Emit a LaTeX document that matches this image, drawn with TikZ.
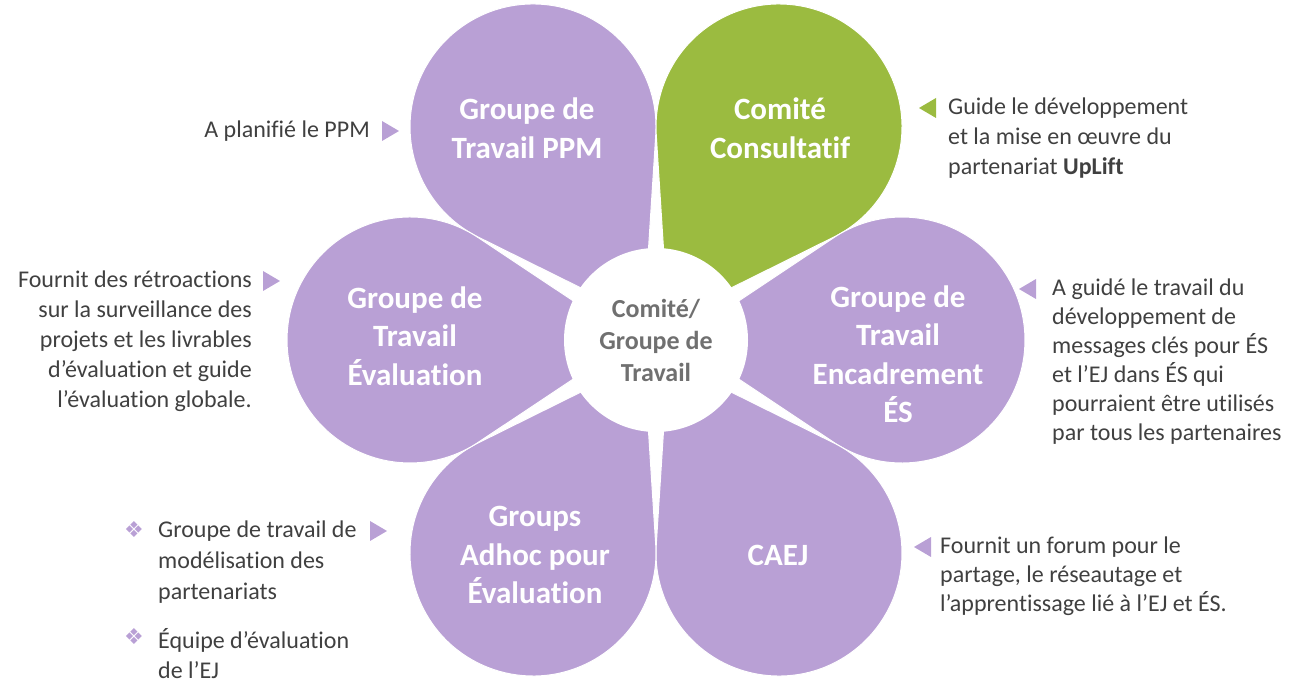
\documentclass[tikz,border=0pt]{standalone}
\usepackage{fontspec}
\setmainfont{Carlito}[Ligatures=NoCommon]
\newfontfamily\symfont{DejaVu Sans}
\definecolor{lilac}{RGB}{185,160,213}
\definecolor{leaf}{RGB}{155,187,64}
\definecolor{ink}{RGB}{64,64,64}
\definecolor{hubgray}{RGB}{112,112,112}
\tikzset{
  petaltext/.style={text=white, font=\bfseries\fontsize{31}{38.5}\selectfont, align=center, inner sep=0pt},
  note/.style={text=ink, font=\fontsize{24}{30}\selectfont, inner sep=0pt},
  tightnote/.style={note, font=\fontsize{24}{29}\selectfont},
  bullet/.style={text=lilac, font=\symfont\fontsize{22}{22}\selectfont, inner sep=0pt}
}
% petal: #1 direction, #2 colour
\newcommand\petal[2]{%
  \fill[#2, draw=white, line width=1pt] (ctr) ++(#1:24) -- ++({#1-33.65}:184.8)
    arc[start angle={#1-123.65}, delta angle=247.3, radius=123] -- cycle;}
\newcommand\pointright[2]{\fill[#2] (#1) -- ++(-17,10) -- ++(0,-20) -- cycle;}
\newcommand\pointleft[2]{\fill[#2] (#1) -- ++(17,10) -- ++(0,-20) -- cycle;}
\begin{document}
\begin{tikzpicture}[x=1pt,y=1pt]
  \useasboundingbox (0,0) rectangle (1309,685);
  \coordinate (ctr) at (656,345);
  \petal{120}{lilac}
  \petal{60}{leaf}
  \petal{0}{lilac}
  \petal{-60}{lilac}
  \petal{-120}{lilac}
  \petal{180}{lilac}
  \node[circle, fill=white, minimum size=184pt, inner sep=0pt, text=hubgray,
        font=\bfseries\fontsize{26}{32}\selectfont, align=center] (hub) at (ctr) {Comité/\\Groupe de\\Travail};

  \node[petaltext] (ppm) at (527,557) {Groupe de\\Travail PPM};
  \node[petaltext] (cc) at (780,557) {Comité\\Consultatif};
  \node[petaltext] (eval) at (415,349) {Groupe de\\Travail\\Évaluation};
  \node[petaltext] (encad) at (898,331) {Groupe de\\Travail\\Encadrement\\ÉS};
  \node[petaltext] (adhoc) at (535,130) {Groups\\Adhoc pour\\Évaluation};
  \node[petaltext] (caej) at (778,130) {CAEJ};

  % notes
  \node[note, anchor=east] (nppm) at (370,554) {A planifié le PPM};
  \coordinate (tppm) at (399,554);
  \pointright{tppm}{lilac}
  \node[note, anchor=north west, align=left] (ncc) at (948,587)
    {Guide le développement\\et la mise en œuvre du\\partenariat \textbf{UpLift}};
  \coordinate (tcc) at (919,577);
  \pointleft{tcc}{leaf}
  \node[note, anchor=north east, align=right] (neval) at (252,414)
    {Fournit des rétroactions\\sur la surveillance des\\projets et les livrables\\d’évaluation et guide\\l’évaluation globale.};
  \coordinate (teval) at (280,404);
  \pointright{teval}{lilac}
  \node[tightnote, anchor=north west, align=left] (nencad) at (1052,406)
    {A guidé le travail du\\développement de\\messages clés pour ÉS\\et l’EJ dans ÉS qui\\pourraient être utilisés\\par tous les partenaires};
  \coordinate (tencad) at (1019,396);
  \pointleft{tencad}{lilac}
  \node[tightnote, anchor=north west, align=left] (ncaej) at (940,148)
    {Fournit un forum pour le\\partage, le réseautage et\\l’apprentissage lié à l’EJ et ÉS.};
  \coordinate (tcaej) at (914,138);
  \pointleft{tcaej}{lilac}
  \node[bullet] (b1) at (134,155) {❖};
  \node[note, anchor=north west, align=left, font=\fontsize{24}{31}\selectfont] (nadhoc) at (158,164)
    {Groupe de travail de\\modélisation des\\partenariats};
  \coordinate (tadhoc) at (387,154);
  \pointright{tadhoc}{lilac}
  \node[bullet] (b2) at (134,48) {❖};
  \node[note, anchor=north west, align=left, font=\fontsize{24}{30}\selectfont] (nequipe) at (158,57)
    {Équipe d’évaluation\\de l’EJ};
\end{tikzpicture}
\end{document}
